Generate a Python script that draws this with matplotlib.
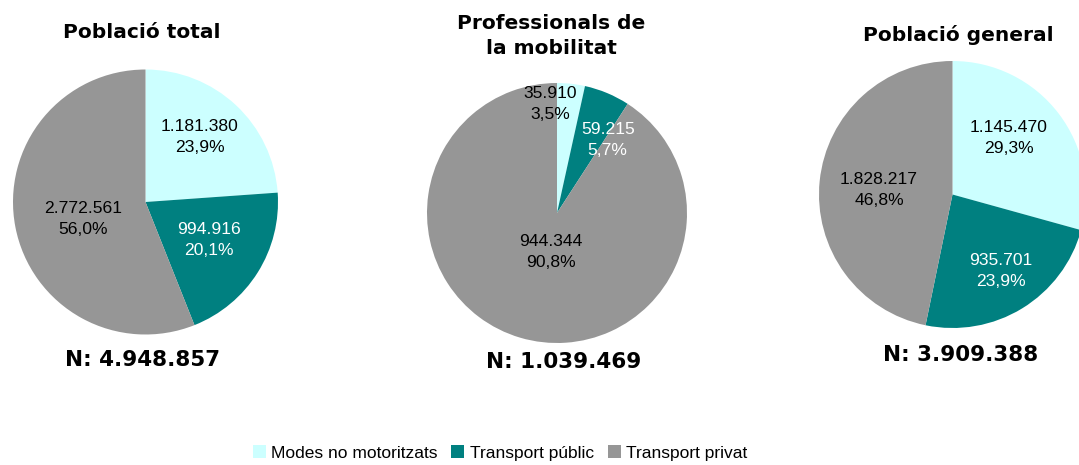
import matplotlib
matplotlib.use("Agg")
import matplotlib.pyplot as plt
from matplotlib.patches import Patch

# data
categories = ['Modes no motoritzats', 'Transport públic', 'Transport privat']
titles = ['Població total', 'Professionals de\nla mobilitat', 'Població general']
totals = ['N: 4.948.857', 'N: 1.039.469', 'N: 3.909.388']
total_values = [1181380, 994916, 2772561]
prof_values = [35910, 59215, 944344]
general_values = [1145470, 935701, 1828217]
total_pcts = ['23,9%', '20,1%', '56,0%']
prof_pcts = ['3,5%', '5,7%', '90,8%']
general_pcts = ['29,3%', '23,9%', '46,8%']

colors = ['#CCFFFF', '#008080', '#969696']
text_colors = ['black', 'white', 'black']

W, H = 1079, 465


def fmt(v):
    return f'{v:,}'.replace(',', '.')


# layout per pie: centre (px), radius (px), label offsets (radius units), title y, N pos
layout = [
    dict(c=(145.5, 202), r=132.5, lab=[(0.41, 0.49), (0.48, -0.29), (-0.47, -0.13)],
         title=(142, 33), n=(143, 360)),
    dict(c=(557, 213), r=130, lab=[(-0.05, 0.84), (0.39, 0.56), (-0.05, -0.30)],
         title=(551, 36), n=(564, 362)),
    dict(c=(952.5, 194.5), r=133.5, lab=[(0.42, 0.42), (0.36, -0.57), (-0.55, 0.03)],
         title=(958, 35), n=(961, 355)),
]

series = [(total_values, total_pcts), (prof_values, prof_pcts), (general_values, general_pcts)]

plt.rcParams['font.family'] = ['Liberation Sans', 'DejaVu Sans']
fig = plt.figure(figsize=(W / 100, H / 100), dpi=100)

for (vals, pcts), lay, title, ntext in zip(series, layout, titles, totals):
    cx, cy = lay['c']
    r = lay['r']
    ax = fig.add_axes([(cx - r) / W, (H - cy - r) / H, 2 * r / W, 2 * r / H])
    ax.pie(vals, colors=colors, startangle=90, counterclock=False, radius=1,
           wedgeprops=dict(linewidth=0))
    ax.set_xlim(-1, 1)
    ax.set_ylim(-1, 1)
    ax.set_aspect('equal')
    ax.axis('off')
    for v, p, (lx, ly), tc in zip(vals, pcts, lay['lab'], text_colors):
        ax.text(lx, ly, f'{fmt(v)}\n{p}', ha='center', va='center', fontsize=12.6,
                color=tc, linespacing=1.5)
    tx, ty = lay['title']
    fig.text(tx / W, 1 - ty / H, title, ha='center', va='center', fontsize=14.5,
             fontweight='bold', family='DejaVu Sans', linespacing=1.45)
    nx, ny = lay['n']
    fig.text(nx / W, 1 - ny / H, ntext, ha='center', va='center', fontsize=15.5,
             fontweight='bold', family='DejaVu Sans')

handles = [Patch(facecolor=c, edgecolor='none') for c in colors]
fig.legend(handles, categories, loc='center', bbox_to_anchor=(500 / W, 1 - 453 / H),
           ncol=3, frameon=False, fontsize=12.5, handlelength=0.75, handleheight=0.75,
           handletextpad=0.3, columnspacing=0.8)

fig.savefig('out.png', dpi=100)
